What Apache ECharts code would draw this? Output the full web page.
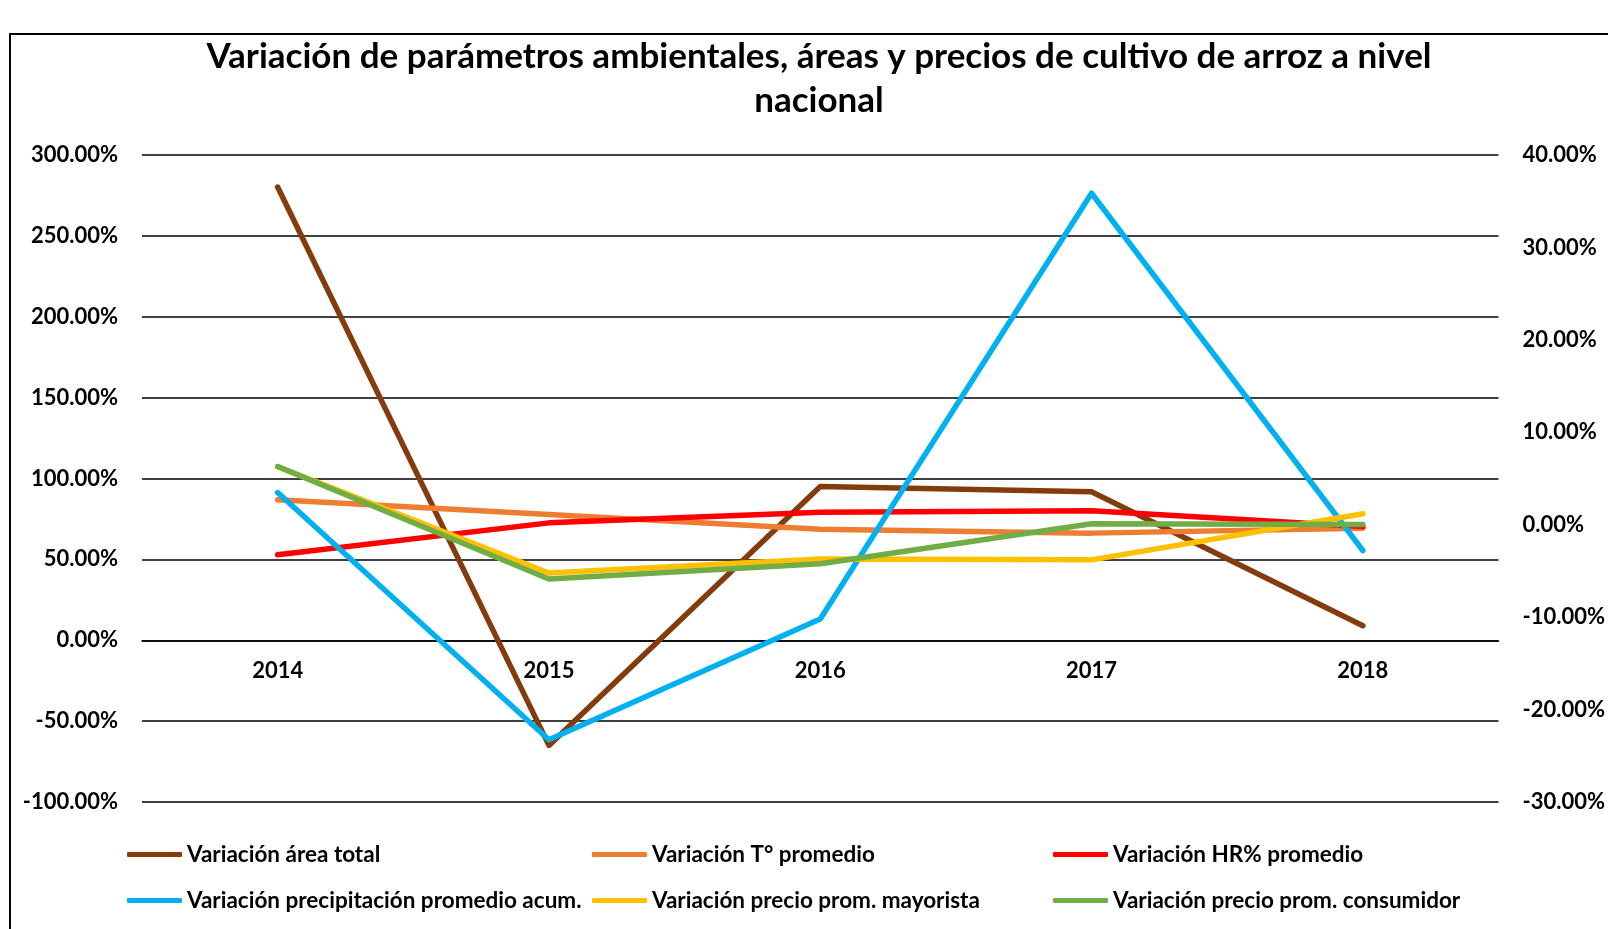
<!DOCTYPE html>
<html>
<head>
<meta charset="utf-8">
<title>Variación de parámetros ambientales</title>
<script src="https://cdn.jsdelivr.net/npm/echarts@6/dist/echarts.min.js"></script>
<style>
  html, body { margin: 0; padding: 0; background: #fff; }
  #chart { width: 1608px; height: 929px; }
</style>
</head>
<body>
<div id="chart"></div>
<script>
// Years on the category axis
const years = ['2014', '2015', '2016', '2017', '2018'];

// Variation values in percent
const areaTotal      = [280.2, -65.0, 95.0, 91.8, 9.0];     // left axis
const tempPromedio   = [2.69, 1.1, -0.48, -0.91, -0.37];    // right axis
const hrPromedio     = [-3.26, 0.2, 1.36, 1.50, -0.19];     // right axis
const precipAcum     = [3.48, -23.26, -10.2, 35.86, -2.79]; // right axis
const precioMayorista = [6.29, -5.23, -3.72, -3.80, 1.18];  // right axis
const precioConsumidor = [6.29, -5.88, -4.23, 0.10, 0.02];  // right axis

// Axis ranges and tick steps
const leftAxisRange  = { min: -100, max: 300, interval: 50 };
const rightAxisRange = { min: -30, max: 40, interval: 10 };

const seriesNames = [
  'Variación área total',
  'Variación T° promedio',
  'Variación HR% promedio',
  'Variación precipitación promedio acum.',
  'Variación precio prom. mayorista',
  'Variación precio prom. consumidor'
];
const seriesColors = ['#843C0C', '#ED7D31', '#FF0000', '#00B0F0', '#FFC000', '#70AD47'];
const seriesData = [areaTotal, tempPromedio, hrPromedio, precipAcum, precioMayorista, precioConsumidor];
const seriesAxis = [0, 1, 1, 1, 1, 1];

const FONT = 'Lato, "Open Sans", sans-serif';
const pct = v => v.toFixed(2) + '%';

// Plot area geometry
const GRID = { left: 142, right: 109, top: 155, bottom: 127 };
const CHART_H = 929;
const plotHeight = CHART_H - GRID.top - GRID.bottom;
// The year axis crosses the left value axis at 0
const zeroShift = -plotHeight * (0 - leftAxisRange.min) / (leftAxisRange.max - leftAxisRange.min);

const chart = echarts.init(document.getElementById('chart'), null, { renderer: 'canvas' });

// Legend laid out as a 3-column, 2-row grid
const legendSlots = [
  { left: 127, top: 843 }, { left: 592, top: 843 }, { left: 1053, top: 843 },
  { left: 127, top: 889 }, { left: 592, top: 889 }, { left: 1053, top: 889 }
];
const legends = seriesNames.map((name, i) => ({
  data: [name],
  left: legendSlots[i].left,
  top: legendSlots[i].top,
  icon: 'roundRect',
  itemWidth: 55,
  itemHeight: 5,
  itemGap: 0,
  padding: 0,
  textStyle: { fontFamily: FONT, fontWeight: 'bold', fontSize: 22.5, color: '#000' }
}));

const axisText = { fontFamily: FONT, fontWeight: 'bold', fontSize: 22, color: '#000' };

const option = {
  backgroundColor: '#fff',
  animation: false,
  title: {
    text: 'Variación de parámetros ambientales, áreas y precios de cultivo de arroz a nivel\nnacional',
    left: 814,
    textAlign: 'center',
    top: 30,
    textStyle: {
      fontFamily: FONT, fontWeight: 'bold', fontSize: 35, color: '#000', lineHeight: 44
    }
  },
  graphic: [{
    type: 'rect',
    shape: { x: 10, y: 34, width: 1640, height: 1000 },
    style: { fill: 'none', stroke: '#000', lineWidth: 2 },
    silent: true,
    z: -1
  }],
  legend: legends,
  grid: { left: GRID.left, right: GRID.right, top: GRID.top, bottom: GRID.bottom, containLabel: false },
  xAxis: {
    type: 'category',
    data: years,
    boundaryGap: true,
    offset: zeroShift,
    axisLine: { show: true, onZero: false, lineStyle: { color: '#000', width: 1.5 } },
    axisTick: { show: false },
    axisLabel: Object.assign({ margin: 20 }, axisText)
  },
  yAxis: [
    {
      type: 'value',
      min: leftAxisRange.min, max: leftAxisRange.max, interval: leftAxisRange.interval,
      axisLine: { show: false },
      axisTick: { show: false },
      splitLine: { show: true, lineStyle: { color: '#000', width: 1.5 } },
      axisLabel: Object.assign({ margin: 24, formatter: pct }, axisText)
    },
    {
      type: 'value',
      position: 'right',
      min: rightAxisRange.min, max: rightAxisRange.max, interval: rightAxisRange.interval,
      axisLine: { show: false },
      axisTick: { show: false },
      splitLine: { show: false },
      axisLabel: Object.assign({ margin: 24, formatter: pct }, axisText)
    }
  ],
  series: seriesNames.map((name, i) => ({
    name: name,
    type: 'line',
    yAxisIndex: seriesAxis[i],
    data: seriesData[i],
    showSymbol: false,
    symbol: 'none',
    color: seriesColors[i],
    lineStyle: { width: 5.5, color: seriesColors[i], cap: 'round', join: 'round' },
    z: 2 + i
  }))
};

chart.setOption(option);
</script>
</body>
</html>
